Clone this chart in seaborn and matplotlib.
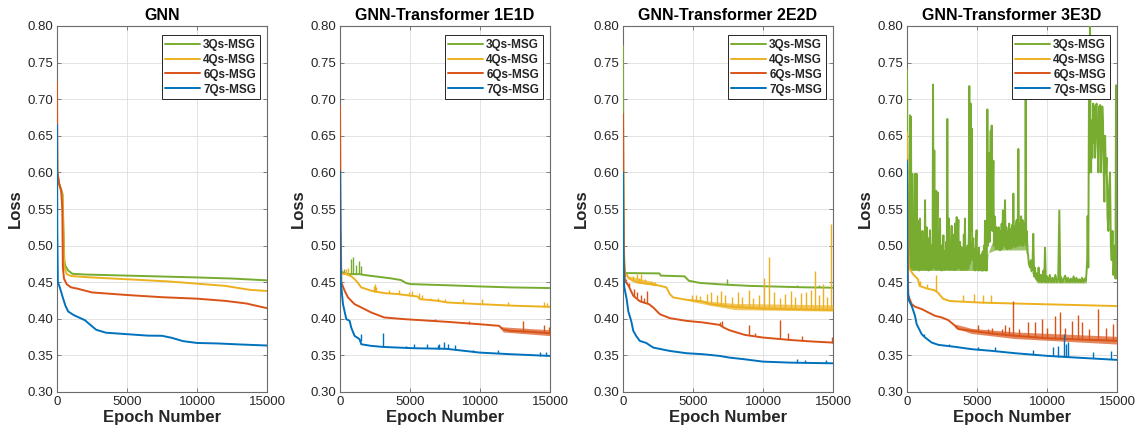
import numpy as np
import pandas as pd
import matplotlib
matplotlib.use("Agg")
import matplotlib.pyplot as plt
from matplotlib.lines import Line2D
from matplotlib.ticker import FormatStrFormatter
import seaborn as sns

# ---------------- labels, ticks, colours ----------------
panel_titles = ["GNN", "GNN-Transformer 1E1D", "GNN-Transformer 2E2D", "GNN-Transformer 3E3D"]
series_names = ["3Qs-MSG", "4Qs-MSG", "6Qs-MSG", "7Qs-MSG"]
series_colors = ["#77AC30", "#EDB120", "#D95319", "#0072BD"]
x_ticks = [0, 5000, 10000, 15000]
y_ticks = [0.30, 0.35, 0.40, 0.45, 0.50, 0.55, 0.60, 0.65, 0.70, 0.75, 0.80]

# ---------------- GNN ----------------
gnn_3qs_ep = [0, 150, 300, 400, 450, 520, 600, 800, 1100, 2000, 5000, 8000, 10000, 12500, 15000]
gnn_3qs_loss = [0.598, 0.585, 0.576, 0.570, 0.530, 0.480, 0.472, 0.466, 0.4615, 0.4605, 0.459, 0.4575, 0.4565, 0.455, 0.4525]
gnn_4qs_ep = [0, 150, 300, 400, 450, 520, 700, 1000, 2000, 5000, 8000, 10000, 12000, 13800, 15000]
gnn_4qs_loss = [0.600, 0.584, 0.575, 0.565, 0.520, 0.470, 0.461, 0.4585, 0.457, 0.454, 0.451, 0.448, 0.445, 0.4395, 0.438]
gnn_6qs_ep = [0, 15, 40, 150, 300, 380, 420, 500, 700, 1000, 1500, 2500, 5000, 7500, 10000, 12000, 13500, 15000]
gnn_6qs_loss = [0.723, 0.660, 0.600, 0.585, 0.575, 0.550, 0.470, 0.455, 0.447, 0.443, 0.441, 0.436, 0.4325, 0.4295, 0.4275, 0.4245, 0.421, 0.4145]
gnn_7qs_ep = [0, 20, 60, 200, 400, 600, 800, 1200, 2000, 2300, 2800, 3500, 5000, 6500, 7500, 8200, 9000, 10000, 11500, 13000, 15000]
gnn_7qs_loss = [0.665, 0.520, 0.450, 0.443, 0.430, 0.418, 0.410, 0.405, 0.398, 0.393, 0.385, 0.381, 0.379, 0.377, 0.3768, 0.374, 0.3695, 0.367, 0.3663, 0.365, 0.3635]

# ---------------- GNN-Transformer 1E1D ----------------
t1_3qs_ep = [0, 80, 300, 700, 1400, 1750, 2700, 3650, 4360, 4720, 5070, 6500, 7680, 10000, 12200, 15000]
t1_3qs_loss = [0.520, 0.465, 0.462, 0.461, 0.461, 0.4598, 0.4575, 0.4552, 0.4529, 0.4488, 0.4474, 0.4465, 0.4458, 0.4442, 0.4429, 0.442]
t1_3qs_spk_ep = [300, 760, 920, 1160, 1330, 1470]
t1_3qs_spk_base = [0.462, 0.461, 0.461, 0.461, 0.461, 0.461]
t1_3qs_spk_peak = [0.468, 0.482, 0.484, 0.473, 0.479, 0.472]

t1_4qs_ep = [0, 60, 450, 800, 1040, 1280, 1520, 2230, 3170, 4120, 5070, 5540, 5700, 6970, 7680, 10000, 12500, 15000]
t1_4qs_loss = [0.480, 0.462, 0.461, 0.458, 0.4543, 0.449, 0.4429, 0.4383, 0.4351, 0.4338, 0.4315, 0.4305, 0.4269, 0.4246, 0.4223, 0.420, 0.4178, 0.4164]
t1_4qs_spk_ep = [450, 600, 2400, 2480, 2550, 3500, 4200, 4900, 5120, 5660, 5850, 6400, 6970, 7500, 8800, 10120, 12000, 14570, 14800]
t1_4qs_spk_base = [0.461, 0.460, 0.437, 0.437, 0.437, 0.4346, 0.4337, 0.432, 0.4314, 0.428, 0.427, 0.426, 0.4246, 0.423, 0.421, 0.420, 0.419, 0.4167, 0.4165]
t1_4qs_spk_peak = [0.468, 0.470, 0.445, 0.447, 0.444, 0.4395, 0.439, 0.436, 0.438, 0.435, 0.433, 0.429, 0.428, 0.427, 0.427, 0.427, 0.423, 0.423, 0.422]

t1_6qs_ep = [0, 20, 50, 95, 330, 570, 1040, 1520, 2230, 3170, 4600, 5780, 7680, 9950, 11370, 11600, 12200, 13390, 15000]
t1_6qs_loss = [0.690, 0.620, 0.530, 0.4497, 0.4383, 0.4292, 0.420, 0.4155, 0.4086, 0.4018, 0.3995, 0.3981, 0.3958, 0.3926, 0.3904, 0.3858, 0.3835, 0.3825, 0.3803]
t1_6qs_spk_ep = [6800, 9240, 13080, 14600, 14900]
t1_6qs_spk_base = [0.3968, 0.393, 0.3825, 0.3806, 0.3803]
t1_6qs_spk_peak = [0.3995, 0.3965, 0.3965, 0.392, 0.389]
t1_6qs_band_ep = [11400, 11650, 15000]
t1_6qs_band_lo = [0.3904, 0.3820, 0.3770]
t1_6qs_band_hi = [0.3904, 0.3890, 0.3850]

t1_7qs_ep = [0, 20, 47, 213, 450, 690, 800, 1040, 1400, 1520, 2230, 3060, 4120, 5310, 7600, 10000, 12200, 15000]
t1_7qs_loss = [0.602, 0.500, 0.452, 0.420, 0.3995, 0.3972, 0.3881, 0.3767, 0.3721, 0.3652, 0.363, 0.3616, 0.3607, 0.3598, 0.359, 0.3538, 0.3516, 0.3493]
t1_7qs_spk_ep = [1470, 3100, 4700, 5300, 6200, 6970, 7100, 7400, 7700, 8200, 9500, 11300, 14300, 14700]
t1_7qs_spk_base = [0.369, 0.3616, 0.3603, 0.3598, 0.3595, 0.3592, 0.3591, 0.359, 0.3588, 0.3577, 0.3548, 0.3528, 0.3498, 0.3495]
t1_7qs_spk_peak = [0.379, 0.381, 0.363, 0.366, 0.366, 0.364, 0.365, 0.368, 0.366, 0.364, 0.358, 0.357, 0.355, 0.355]

# ---------------- GNN-Transformer 2E2D ----------------
t2_3qs_ep = [0, 30, 100, 2600, 2700, 4400, 4700, 5500, 7000, 9000, 11000, 13000, 15000]
t2_3qs_loss = [0.773, 0.550, 0.4625, 0.462, 0.459, 0.458, 0.452, 0.449, 0.447, 0.445, 0.444, 0.443, 0.4425]
t2_3qs_spk_ep = [7400, 12400, 14000]
t2_3qs_spk_base = [0.4465, 0.4435, 0.443]
t2_3qs_spk_peak = [0.455, 0.446, 0.4455]

t2_4qs_ep = [0, 30, 150, 500, 970, 1920, 2630, 3100, 3340, 3580, 4526, 5710, 6190, 7600, 9000, 10000, 12000, 15000]
t2_4qs_loss = [0.650, 0.500, 0.461, 0.4543, 0.4497, 0.4474, 0.4452, 0.4429, 0.4338, 0.4292, 0.426, 0.4237, 0.4201, 0.4168, 0.415, 0.414, 0.4132, 0.412]
t2_4qs_spk_ep = [300, 700, 1000, 1150, 1300, 1600, 2000, 2300, 4900, 5200, 5500, 6000, 6300, 6700, 7000,
                 7300, 7800, 8200, 8500, 8980, 9300, 9700, 10050, 10400, 10800, 11200, 11600, 11990,
                 12300, 12700, 13100, 13460, 13720, 14000, 14300, 14600, 14890]
t2_4qs_spk_base = [0.458, 0.452, 0.4497, 0.449, 0.4488, 0.4481, 0.4472, 0.4462, 0.4253, 0.4247, 0.4241, 0.4215,
                   0.4197, 0.4187, 0.4182, 0.4175, 0.4165, 0.416, 0.4155, 0.415, 0.4147, 0.4143, 0.414, 0.4138,
                   0.4137, 0.4135, 0.4133, 0.4132, 0.4131, 0.4129, 0.4127, 0.4125, 0.4124, 0.4123, 0.4122, 0.4121, 0.412]
t2_4qs_spk_peak = [0.462, 0.459, 0.461, 0.456, 0.461, 0.455, 0.452, 0.450, 0.432, 0.433, 0.431, 0.434, 0.436,
                   0.432, 0.438, 0.433, 0.430, 0.436, 0.430, 0.439, 0.428, 0.432, 0.4557, 0.484, 0.437, 0.429,
                   0.434, 0.438, 0.430, 0.435, 0.436, 0.440, 0.4657, 0.432, 0.447, 0.430, 0.529]
t2_4qs_band_ep = [300, 2300, 2400, 4700, 4800, 6200, 8000, 15000]
t2_4qs_band_lo = [0.455, 0.445, 0.446, 0.4255, 0.424, 0.4185, 0.4125, 0.4105]
t2_4qs_band_hi = [0.459, 0.450, 0.446, 0.4255, 0.427, 0.424, 0.421, 0.419]

t2_6qs_ep = [0, 20, 60, 142, 400, 735, 1200, 1850, 2160, 2630, 3340, 4526, 5710, 6900, 7200, 7600, 8700, 10000, 12000, 13500, 15000]
t2_6qs_loss = [0.680, 0.600, 0.480, 0.452, 0.445, 0.4315, 0.424, 0.420, 0.4155, 0.4063, 0.4009, 0.3972, 0.395, 0.3917, 0.388, 0.3844, 0.378, 0.3744, 0.371, 0.369, 0.3675]
t2_6qs_spk_ep = [200, 450, 800, 1000, 1300, 1500, 1700, 6950, 7050, 8980, 9400, 11210, 11800, 12800, 14900]
t2_6qs_spk_base = [0.451, 0.444, 0.431, 0.428, 0.4235, 0.422, 0.421, 0.3915, 0.3905, 0.3775, 0.3765, 0.3725, 0.3715, 0.370, 0.3675]
t2_6qs_spk_peak = [0.455, 0.449, 0.441, 0.437, 0.432, 0.428, 0.438, 0.396, 0.397, 0.3913, 0.381, 0.3986, 0.380, 0.3765, 0.375]

t2_7qs_ep = [0, 20, 80, 142, 260, 380, 590, 735, 950, 1200, 1660, 2160, 2850, 3340, 4526, 5710, 6900, 7600, 8680, 10000, 12000, 15000]
t2_7qs_loss = [0.600, 0.500, 0.445, 0.4383, 0.427, 0.410, 0.3968, 0.3835, 0.3763, 0.3698, 0.367, 0.3607, 0.358, 0.3561, 0.353, 0.3516, 0.3493, 0.347, 0.3447, 0.3415, 0.3401, 0.3392]
t2_7qs_spk_ep = [12400, 13000, 14500]
t2_7qs_spk_base = [0.3398, 0.3397, 0.3393]
t2_7qs_spk_peak = [0.345, 0.3435, 0.3435]

# ---------------- GNN-Transformer 3E3D ----------------
# 3Qs-MSG is unstable here: (epoch, loss) pairs trace its oscillation
t3_3qs_points = [
    (0, .740), (40, .560), (80, .490), (120, .470), (160, .500), (215, .678), (240, .468), (285, .676),
    (320, .468), (350, .520), (380, .598), (410, .468), (450, .505), (490, .467), (530, .540), (570, .598),
    (610, .467), (650, .510), (690, .598), (730, .468), (770, .495), (810, .534), (850, .466), (890, .512),
    (930, .537), (970, .467), (1010, .498), (1050, .468), (1100, .520), (1150, .467), (1200, .505),
    (1250, .468), (1290, .562), (1330, .467), (1370, .500), (1400, .525), (1450, .467), (1500, .510),
    (1550, .466), (1600, .495), (1640, .521), (1690, .467), (1740, .500), (1790, .468), (1830, .505),
    (1860, .720), (1900, .470), (1950, .630), (2000, .468), (2035, .520), (2070, .575), (2110, .467),
    (2150, .540), (2190, .573), (2230, .468), (2280, .505), (2320, .467), (2360, .537), (2400, .467),
    (2450, .500), (2500, .466), (2550, .488), (2600, .514), (2650, .467), (2700, .492), (2750, .467),
    (2800, .505), (2840, .468), (2880, .673), (2920, .468), (2960, .510), (2980, .537), (3020, .467),
    (3070, .500), (3110, .467), (3150, .505), (3190, .527), (3230, .468), (3270, .495), (3310, .467),
    (3360, .515), (3400, .467), (3430, .530), (3470, .467), (3510, .500), (3550, .539), (3590, .468),
    (3630, .510), (3670, .535), (3710, .470), (3750, .492), (3790, .505), (3830, .467), (3880, .498),
    (3920, .467), (3970, .490), (4010, .467), (4060, .515), (4100, .468), (4140, .537), (4180, .467),
    (4230, .493), (4280, .467), (4330, .500), (4380, .468), (4420, .520), (4450, .718), (4490, .475),
    (4550, .694), (4590, .520), (4620, .660), (4660, .480), (4700, .505), (4740, .510), (4780, .467),
    (4820, .495), (4860, .466), (4920, .500), (4970, .521), (5010, .467), (5060, .490), (5100, .466),
    (5140, .497), (5190, .467), (5240, .485), (5280, .466), (5330, .488), (5370, .466), (5410, .492),
    (5450, .466), (5500, .500), (5540, .467), (5570, .534), (5610, .466), (5650, .480), (5700, .466),
    (5740, .686), (5780, .500), (5820, .560), (5860, .626), (5900, .505), (5940, .600), (5980, .657),
    (6020, .540), (6050, .664), (6090, .520), (6130, .560), (6170, .616), (6210, .500), (6250, .540),
    (6290, .534), (6340, .495), (6390, .525), (6440, .496), (6490, .515), (6550, .525), (6600, .494),
    (6650, .520), (6700, .494), (6760, .530), (6800, .496), (6850, .548), (6900, .500), (6950, .520),
    (7000, .562), (7050, .497), (7100, .525), (7150, .495), (7200, .520), (7250, .496), (7300, .530),
    (7350, .497), (7400, .522), (7450, .496), (7500, .528), (7550, .498), (7595, .571), (7650, .500),
    (7700, .525), (7750, .498), (7800, .530), (7834, .535), (7880, .500), (7920, .540), (7952, .632),
    (8000, .500), (8050, .530), (8100, .502), (8150, .540), (8200, .500), (8250, .535), (8310, .500),
    (8360, .520), (8400, .530), (8440, .505), (8477, .740), (8510, .500), (8550, .520), (8600, .490),
    (8650, .488), (8700, .475), (8780, .470), (8850, .480), (8900, .465), (8960, .470), (9020, .516),
    (9080, .458), (9140, .470), (9200, .455), (9260, .462), (9330, .452), (9400, .470), (9470, .451),
    (9550, .460), (9620, .450), (9700, .462), (9750, .466), (9800, .451), (9860, .497), (9920, .450),
    (10000, .458), (10100, .450), (10200, .460), (10300, .450), (10400, .456), (10500, .450),
    (10600, .460), (10700, .450), (10800, .455), (10880, .548), (10950, .450), (11000, .457),
    (11100, .450), (11200, .455), (11300, .459), (11400, .450), (11500, .456), (11600, .450),
    (11700, .455), (11800, .450), (11900, .458), (12000, .450), (12100, .456), (12200, .450),
    (12300, .454), (12400, .450), (12500, .456), (12600, .450), (12700, .455), (12780, .452),
    (12830, .466), (12870, .480), (12900, .540), (12950, .470), (13000, .717), (13040, .600),
    (13070, .820), (13110, .640), (13150, .600), (13190, .671), (13240, .620), (13300, .694),
    (13350, .640), (13400, .690), (13430, .620), (13490, .692), (13550, .694), (13600, .640),
    (13670, .600), (13720, .690), (13760, .650), (13800, .692), (13850, .600), (13900, .640),
    (13950, .690), (14000, .670), (14050, .600), (14100, .560), (14150, .650), (14200, .600),
    (14260, .620), (14320, .540), (14380, .520), (14440, .580), (14500, .600), (14560, .500),
    (14620, .480), (14680, .520), (14740, .460), (14800, .480), (14850, .500), (14890, .455),
    (14930, .719), (14970, .470), (15000, .455),
]
t3_3qs_ep = [e for e, _ in t3_3qs_points]
t3_3qs_loss = [v for _, v in t3_3qs_points]
t3_3qs_band_ep = [150, 5700, 5800, 6300, 8600, 8700, 9300, 12800, 12900, 15000]
t3_3qs_band_lo = [0.466, 0.466, 0.490, 0.494, 0.494, 0.470, 0.449, 0.449, 0.500, 0.500]
t3_3qs_band_hi = [0.486, 0.488, 0.490, 0.515, 0.515, 0.470, 0.455, 0.455, 0.500, 0.500]

t3_4qs_ep = [0, 30, 143, 430, 785, 900, 1380, 1980, 2210, 2570, 3050, 5430, 10190, 15000]
t3_4qs_loss = [0.655, 0.520, 0.470, 0.4609, 0.454, 0.4449, 0.4416, 0.4389, 0.4357, 0.4275, 0.4243, 0.422, 0.4197, 0.4174]
t3_4qs_spk_ep = [950, 1400, 2050, 4000, 4800, 5400, 6000]
t3_4qs_spk_base = [0.4445, 0.4415, 0.438, 0.4232, 0.4225, 0.422, 0.4218]
t3_4qs_spk_peak = [0.452, 0.447, 0.460, 0.432, 0.434, 0.433, 0.433]

t3_6qs_ep = [0, 20, 60, 95, 330, 570, 1050, 1520, 2000, 2470, 2950, 3430, 3670, 4620, 6050, 7710, 10000, 12000, 15000]
t3_6qs_loss = [0.617, 0.550, 0.460, 0.4316, 0.4201, 0.4165, 0.4133, 0.4087, 0.4041, 0.4019, 0.3982, 0.3905, 0.3859, 0.3836, 0.3799, 0.3768, 0.3735, 0.372, 0.370]
t3_6qs_spk_ep = [5050, 5800, 6100, 6800, 7000, 7300, 7600, 8000, 8670, 9140, 9620, 10000, 10570, 10930,
                 11300, 11760, 12240, 12480, 13000, 13670, 14200, 14740, 14980]
t3_6qs_spk_base = [0.3826, 0.381, 0.3798, 0.3785, 0.378, 0.3775, 0.377, 0.3764, 0.3754, 0.3748, 0.374, 0.3735,
                   0.3731, 0.3728, 0.3725, 0.3722, 0.3718, 0.3717, 0.3713, 0.3709, 0.3705, 0.3702, 0.370]
t3_6qs_spk_peak = [0.391, 0.386, 0.388, 0.386, 0.391, 0.389, 0.424, 0.386, 0.395, 0.395, 0.3996, 0.388, 0.4041,
                   0.4087, 0.387, 0.3973, 0.4055, 0.395, 0.386, 0.4133, 0.388, 0.3935, 0.3996]
t3_6qs_band_ep = [3400, 4600, 7700, 15000]
t3_6qs_band_lo = [0.388, 0.380, 0.373, 0.3655]
t3_6qs_band_hi = [0.393, 0.387, 0.382, 0.376]

t3_7qs_ep = [0, 20, 47, 143, 330, 450, 570, 690, 1050, 1290, 1760, 2240, 3430, 4620, 6050, 7710, 10000, 12000, 15000]
t3_7qs_loss = [0.615, 0.500, 0.4384, 0.4247, 0.4178, 0.411, 0.4041, 0.3927, 0.379, 0.3745, 0.3676, 0.3644, 0.3617, 0.3585, 0.3562, 0.353, 0.3494, 0.3471, 0.3439]
t3_7qs_spk_ep = [1200, 3000, 5100, 6300, 9000, 10450, 10800, 11230, 11350, 11500, 13300, 14600]
t3_7qs_spk_base = [0.376, 0.3625, 0.3575, 0.356, 0.351, 0.3487, 0.3484, 0.348, 0.3479, 0.3478, 0.3461, 0.3446]
t3_7qs_spk_peak = [0.379, 0.366, 0.362, 0.361, 0.358, 0.361, 0.363, 0.379, 0.366, 0.368, 0.354, 0.356]


def trace(ep, loss, spk=None, band=None):
    return {"ep": ep, "loss": loss, "spk": spk, "band": band}


panels = [
    [trace(gnn_3qs_ep, gnn_3qs_loss),
     trace(gnn_4qs_ep, gnn_4qs_loss),
     trace(gnn_6qs_ep, gnn_6qs_loss),
     trace(gnn_7qs_ep, gnn_7qs_loss)],
    [trace(t1_3qs_ep, t1_3qs_loss, (t1_3qs_spk_ep, t1_3qs_spk_base, t1_3qs_spk_peak)),
     trace(t1_4qs_ep, t1_4qs_loss, (t1_4qs_spk_ep, t1_4qs_spk_base, t1_4qs_spk_peak)),
     trace(t1_6qs_ep, t1_6qs_loss, (t1_6qs_spk_ep, t1_6qs_spk_base, t1_6qs_spk_peak),
           (t1_6qs_band_ep, t1_6qs_band_lo, t1_6qs_band_hi)),
     trace(t1_7qs_ep, t1_7qs_loss, (t1_7qs_spk_ep, t1_7qs_spk_base, t1_7qs_spk_peak))],
    [trace(t2_3qs_ep, t2_3qs_loss, (t2_3qs_spk_ep, t2_3qs_spk_base, t2_3qs_spk_peak)),
     trace(t2_4qs_ep, t2_4qs_loss, (t2_4qs_spk_ep, t2_4qs_spk_base, t2_4qs_spk_peak),
           (t2_4qs_band_ep, t2_4qs_band_lo, t2_4qs_band_hi)),
     trace(t2_6qs_ep, t2_6qs_loss, (t2_6qs_spk_ep, t2_6qs_spk_base, t2_6qs_spk_peak)),
     trace(t2_7qs_ep, t2_7qs_loss, (t2_7qs_spk_ep, t2_7qs_spk_base, t2_7qs_spk_peak))],
    [trace(t3_3qs_ep, t3_3qs_loss, None, (t3_3qs_band_ep, t3_3qs_band_lo, t3_3qs_band_hi)),
     trace(t3_4qs_ep, t3_4qs_loss, (t3_4qs_spk_ep, t3_4qs_spk_base, t3_4qs_spk_peak)),
     trace(t3_6qs_ep, t3_6qs_loss, (t3_6qs_spk_ep, t3_6qs_spk_base, t3_6qs_spk_peak),
           (t3_6qs_band_ep, t3_6qs_band_lo, t3_6qs_band_hi)),
     trace(t3_7qs_ep, t3_7qs_loss, (t3_7qs_spk_ep, t3_7qs_spk_base, t3_7qs_spk_peak))],
]

# ---------------- style ----------------
sns.set_style("ticks")
plt.rcParams["font.family"] = ["Liberation Sans", "DejaVu Sans"]
plt.rcParams["axes.linewidth"] = 0.8

AX_GRAY = "#6b6b6b"
TXT = "#262626"

fig = plt.figure(figsize=(11.36, 4.32), dpi=100)
W, H = 1136.0, 432.0
left_px = [57, 340, 623, 907]
ax_w_px, top_px, bot_px = 210, 26, 392

for p, (title, traces) in enumerate(zip(panel_titles, panels)):
    ax = fig.add_axes([left_px[p] / W, 1 - bot_px / H, ax_w_px / W, (bot_px - top_px) / H])
    for s, (name, color, tr) in enumerate(zip(series_names, series_colors, traces)):
        z = 2 + s
        if tr["band"] is not None:
            bep, blo, bhi = tr["band"]
            ax.fill_between(bep, blo, bhi, color=color, lw=0, alpha=0.7, zorder=z)
        if tr["spk"] is not None:
            sep, sbase, speak = tr["spk"]
            ax.vlines(sep, sbase, speak, color=color, lw=1.0, zorder=z)
        df = pd.DataFrame({"epoch": tr["ep"], "loss": tr["loss"]})
        sns.lineplot(data=df, x="epoch", y="loss", color=color, lw=1.4,
                     estimator=None, sort=False, ax=ax, zorder=z)

    ax.set_xlim(0, 15000)
    ax.set_ylim(0.30, 0.80)
    ax.set_xticks(x_ticks)
    ax.set_yticks(y_ticks)
    ax.yaxis.set_major_formatter(FormatStrFormatter("%.2f"))
    ax.grid(True, color="#dedede", lw=0.6, zorder=0)
    ax.set_axisbelow(True)
    ax.tick_params(direction="in", length=3, width=0.6, top=True, right=True,
                   colors=AX_GRAY, labelcolor=TXT, labelsize=9.5, pad=3)
    for sp in ax.spines.values():
        sp.set_color(AX_GRAY)
        sp.set_linewidth(0.8)
        sp.set_zorder(1.5)
    ax.set_title(title, fontsize=11.5, fontweight="bold", color="black", pad=4)
    ax.set_xlabel("Epoch Number", fontsize=12, fontweight="bold", color=TXT, labelpad=1)
    ax.set_ylabel("Loss", fontsize=12, fontweight="bold", color=TXT, labelpad=3)

    handles = [Line2D([0], [0], color=c, lw=1.4) for c in series_colors]
    leg = ax.legend(handles, series_names, loc="upper right", bbox_to_anchor=(0.965, 0.975),
                    prop={"weight": "bold", "size": 8.5}, frameon=True, fancybox=False,
                    framealpha=1, edgecolor="#262626", handlelength=2.9, handletextpad=0.3,
                    labelspacing=0.25, borderpad=0.3, borderaxespad=0.0)
    leg.get_frame().set_linewidth(0.7)
    leg.set_zorder(20)

fig.savefig("out.png", dpi=100, facecolor="white")
